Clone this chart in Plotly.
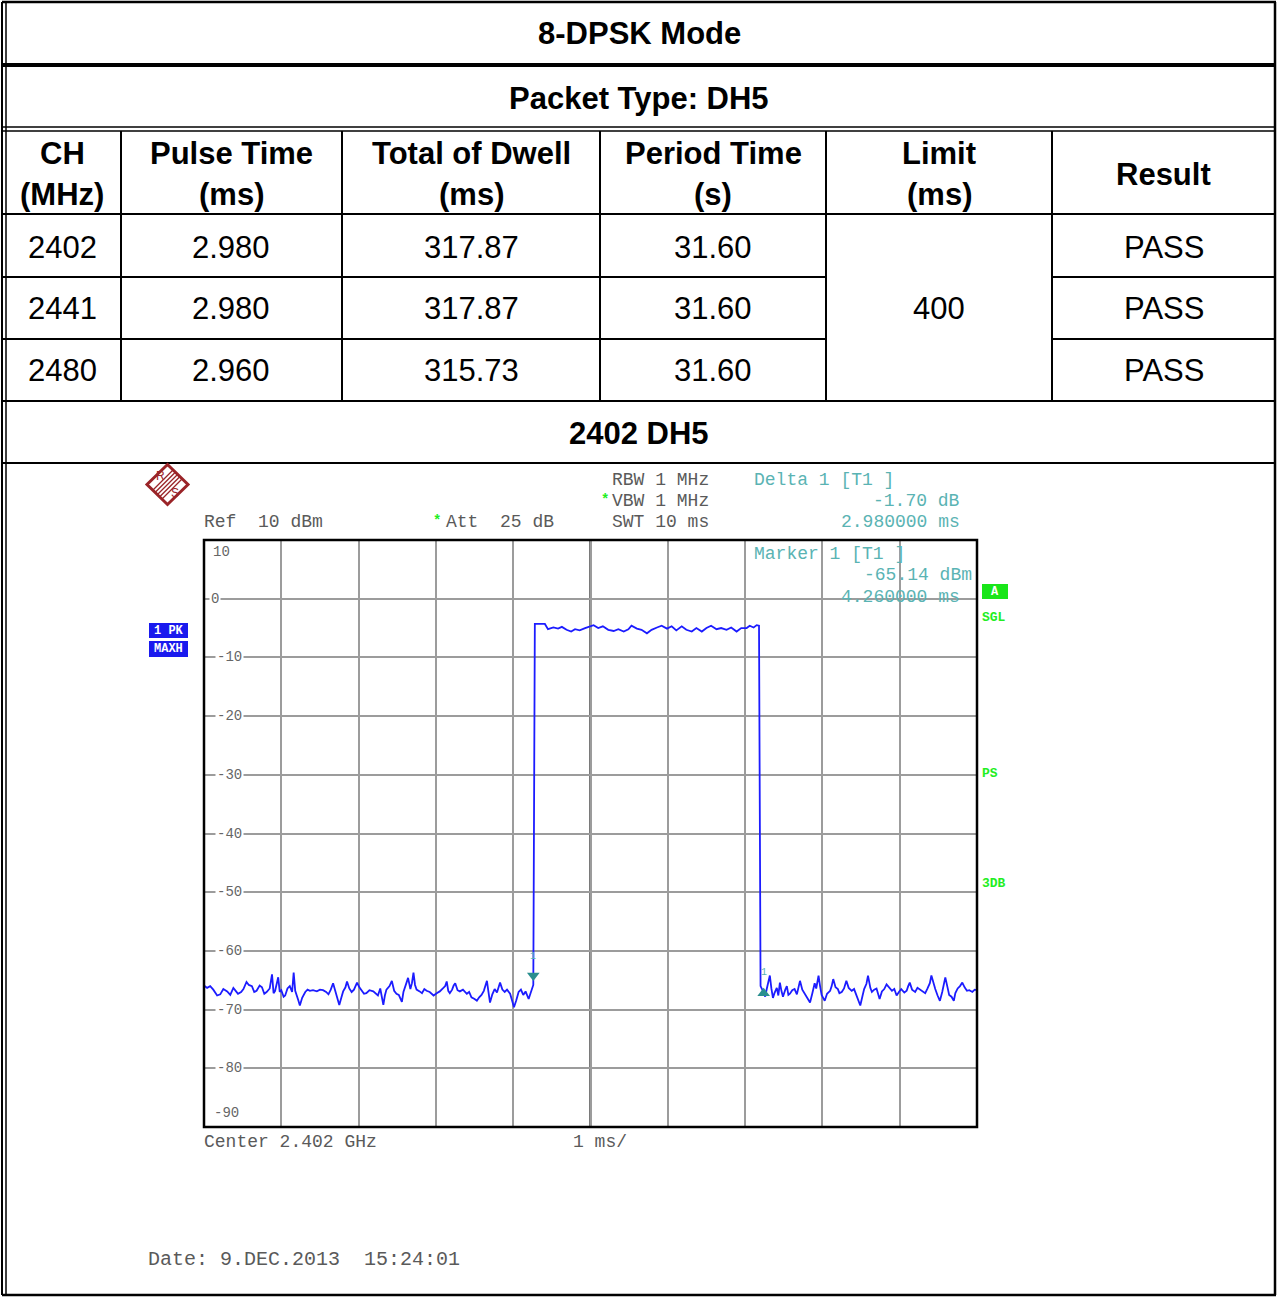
import plotly.graph_objects as go

# ---------------- data ----------------
mode_title = "8-DPSK Mode"
packet_title = "Packet Type: DH5"
headers = [["CH", "(MHz)"], ["Pulse Time", "(ms)"], ["Total of Dwell", "(ms)"],
           ["Period Time", "(s)"], ["Limit", "(ms)"], ["Result"]]
ch_mhz = ["2402", "2441", "2480"]
pulse_ms = ["2.980", "2.980", "2.960"]
dwell_ms = ["317.87", "317.87", "315.73"]
period_s = ["31.60", "31.60", "31.60"]
limit_ms = "400"
result = ["PASS", "PASS", "PASS"]
plot_title = "2402 DH5"

# trace (time in ms, level in dBm)
left_noise = [
    (0.00, -65.9), (0.04, -66.3), (0.08, -66.0), (0.12, -66.6), (0.17, -67.6), (0.21, -67.4),
    (0.25, -66.5), (0.30, -66.9), (0.34, -67.5), (0.38, -66.3), (0.41, -66.8), (0.44, -67.3),
    (0.48, -67.0), (0.51, -66.5), (0.55, -65.3), (0.58, -65.8), (0.62, -66.0), (0.65, -67.0),
    (0.68, -66.8), (0.72, -65.9), (0.75, -66.2), (0.78, -67.3), (0.81, -67.0), (0.85, -66.4),
    (0.88, -64.0), (0.90, -67.2), (0.92, -66.8), (0.94, -65.8), (0.96, -64.5), (0.98, -67.0),
    (1.00, -66.7), (1.03, -67.8), (1.05, -67.6), (1.08, -66.4), (1.11, -66.0), (1.14, -67.0),
    (1.16, -63.7), (1.18, -66.8), (1.20, -67.5), (1.22, -68.4), (1.24, -69.3), (1.27, -68.0),
    (1.31, -67.0), (1.34, -66.6), (1.37, -66.8), (1.41, -66.7), (1.46, -66.9), (1.50, -66.6),
    (1.54, -66.7), (1.58, -67.0), (1.61, -67.4), (1.64, -66.6), (1.67, -65.5), (1.70, -66.8),
    (1.72, -67.8), (1.75, -69.2), (1.78, -67.8), (1.80, -66.9), (1.83, -66.2), (1.85, -65.2),
    (1.88, -66.4), (1.91, -67.0), (1.94, -66.6), (1.98, -65.4), (2.01, -66.2), (2.04, -66.8),
    (2.07, -67.3), (2.10, -67.2), (2.14, -66.7), (2.19, -66.9), (2.22, -67.2), (2.25, -67.6),
    (2.28, -66.4), (2.30, -68.0), (2.32, -69.2), (2.34, -67.6), (2.36, -66.6), (2.40, -66.0),
    (2.43, -65.1), (2.46, -66.8), (2.49, -67.3), (2.52, -67.5), (2.56, -68.7), (2.58, -67.0),
    (2.60, -66.0), (2.62, -65.4), (2.64, -64.6), (2.67, -66.5), (2.69, -65.5), (2.71, -63.7),
    (2.73, -65.8), (2.75, -66.6), (2.79, -66.9), (2.82, -67.2), (2.85, -66.5), (2.88, -66.8),
    (2.92, -67.0), (2.97, -67.6), (3.01, -67.2), (3.05, -66.9), (3.09, -66.4), (3.12, -66.0),
    (3.14, -65.2), (3.16, -66.8), (3.18, -67.2), (3.21, -66.6), (3.23, -65.9), (3.25, -65.5),
    (3.28, -66.7), (3.31, -66.9), (3.35, -66.6), (3.40, -67.3), (3.43, -67.0), (3.46, -67.9),
    (3.50, -68.2), (3.53, -68.5), (3.56, -67.9), (3.59, -67.5), (3.62, -66.8), (3.64, -65.8),
    (3.66, -65.1), (3.68, -67.0), (3.70, -68.8), (3.73, -67.4), (3.76, -66.5), (3.79, -67.1),
    (3.81, -66.0), (3.83, -65.4), (3.86, -66.6), (3.89, -67.0), (3.92, -66.6), (3.96, -67.3),
    (3.98, -68.2), (4.01, -69.6), (4.04, -68.4), (4.07, -67.0), (4.10, -66.6), (4.13, -67.5),
    (4.16, -66.9), (4.20, -68.2), (4.22, -67.4), (4.24, -66.5), (4.26, -65.8),
]
pulse_top = [
    (4.28, -4.3), (4.33, -4.3), (4.41, -4.3), (4.45, -5.2), (4.52, -4.9), (4.58, -5.1),
    (4.63, -4.8), (4.69, -5.3), (4.75, -5.6), (4.80, -5.2), (4.86, -5.4), (4.93, -5.0),
    (4.99, -4.7), (5.04, -4.5), (5.10, -5.0), (5.16, -4.7), (5.23, -5.3), (5.30, -5.5),
    (5.36, -5.2), (5.43, -5.6), (5.49, -5.2), (5.53, -4.6), (5.60, -5.1), (5.66, -5.3),
    (5.73, -5.9), (5.79, -5.3), (5.86, -4.9), (5.92, -4.6), (5.99, -5.1), (6.05, -4.7),
    (6.11, -5.4), (6.18, -4.7), (6.24, -5.3), (6.31, -5.6), (6.37, -5.0), (6.44, -5.6),
    (6.50, -5.0), (6.56, -4.6), (6.63, -5.2), (6.69, -5.0), (6.76, -5.3), (6.82, -4.9),
    (6.89, -5.6), (6.95, -5.0), (7.02, -5.0), (7.06, -4.6), (7.11, -4.9), (7.15, -4.5),
    (7.18, -4.6),
]
right_noise = [
    (7.20, -66.0), (7.23, -66.8), (7.26, -67.8), (7.28, -66.5), (7.30, -65.5), (7.32, -64.2),
    (7.34, -66.4), (7.36, -68.0), (7.38, -67.2), (7.41, -66.3), (7.43, -67.6), (7.45, -65.4),
    (7.47, -66.8), (7.49, -67.8), (7.52, -66.6), (7.54, -66.0), (7.56, -67.5), (7.58, -67.3),
    (7.61, -66.7), (7.64, -66.5), (7.67, -67.4), (7.69, -66.1), (7.71, -65.1), (7.74, -66.6),
    (7.78, -67.5), (7.81, -68.0), (7.84, -68.8), (7.87, -67.2), (7.90, -65.5), (7.92, -66.4),
    (7.95, -64.2), (7.97, -66.0), (7.99, -67.5), (8.01, -68.0), (8.03, -68.5), (8.06, -67.3),
    (8.10, -66.8), (8.12, -66.0), (8.14, -64.8), (8.17, -66.2), (8.20, -66.5), (8.22, -67.2),
    (8.25, -67.0), (8.28, -66.4), (8.31, -65.1), (8.34, -66.3), (8.38, -66.8), (8.41, -66.5),
    (8.44, -67.5), (8.47, -68.3), (8.49, -69.3), (8.52, -67.6), (8.54, -66.5), (8.57, -65.6),
    (8.59, -64.2), (8.62, -66.3), (8.64, -67.0), (8.67, -66.6), (8.70, -66.4), (8.72, -67.3),
    (8.74, -68.2), (8.77, -66.9), (8.80, -66.5), (8.83, -65.7), (8.86, -66.2), (8.90, -66.8),
    (8.93, -66.5), (8.96, -67.6), (8.99, -67.0), (9.02, -66.5), (9.06, -67.1), (9.09, -66.8),
    (9.11, -66.0), (9.13, -65.4), (9.16, -66.6), (9.20, -67.0), (9.23, -66.3), (9.26, -66.6),
    (9.30, -67.0), (9.33, -67.2), (9.36, -66.4), (9.39, -65.5), (9.41, -64.2), (9.44, -65.9),
    (9.46, -66.5), (9.49, -67.6), (9.52, -68.5), (9.55, -67.0), (9.57, -65.6), (9.59, -64.5),
    (9.62, -66.3), (9.64, -67.5), (9.67, -67.8), (9.70, -68.5), (9.72, -67.2), (9.75, -66.4),
    (9.78, -66.0), (9.81, -65.4), (9.84, -66.2), (9.87, -66.8), (9.90, -66.7), (9.94, -67.0),
    (9.97, -66.6), (10.00, -66.7),
]
marker1_t, marker1_level = 4.26, -64.2
delta1_t, delta1_level = 7.24, -67.2

y_tick_values = [0, -10, -20, -30, -40, -50, -60, -70, -80]
y_tick_labels = ["0", "-10", "-20", "-30", "-40", "-50", "-60", "-70", "-80"]

hdr_left = [("Ref  10 dBm", 204, 522)]
hdr_mid = [("RBW 1 MHz", 612, 480), ("VBW 1 MHz", 612, 501), ("SWT 10 ms", 612, 522)]
att_text = "Att  25 dB"
delta_lines = ["Delta 1 [T1 ]", "-1.70 dB", "2.980000 ms"]
marker_lines = ["Marker 1 [T1 ]", "-65.14 dBm", "4.260000 ms"]
center_text = "Center 2.402 GHz"
span_text = "1 ms/"
date_text = "Date: 9.DEC.2013  15:24:01"

# ---------------- helpers ----------------
W, H = 1277, 1298


def px(x):
    return x / W


def py(y):
    return 1 - y / H


shapes = []
annotations = []


def hline(x0, x1, y, w=2, color="black"):
    shapes.append(dict(type="line", xref="paper", yref="paper", x0=px(x0), x1=px(x1),
                       y0=py(y), y1=py(y), line=dict(color=color, width=w)))


def vline(x, y0, y1, w=2, color="black"):
    shapes.append(dict(type="line", xref="paper", yref="paper", x0=px(x), x1=px(x),
                       y0=py(y0), y1=py(y1), line=dict(color=color, width=w)))


def text(s, x, y, size=31, bold=False, color="black", xanchor="center", family="Liberation Sans",
         bg=None, **kw):
    a = dict(text=f"<b>{s}</b>" if bold else s, x=px(x), y=py(y), xref="paper", yref="paper",
             xanchor=xanchor, yanchor="middle", showarrow=False, borderpad=0, borderwidth=0,
             font=dict(family=family, size=size, color=color))
    if bg:
        a["bgcolor"] = bg
    a.update(kw)
    annotations.append(a)


# ---------------- table ----------------
L, R, T, B = 3, 1275, 2, 1295
col_x = [L, 121, 342, 600, 826, 1052, R]
col_c = [(col_x[i] + col_x[i + 1]) / 2 for i in range(6)]

hline(L - 1, R + 1, T, 2.5)
hline(L - 1, R + 1, B, 2.5)
vline(L - 1, T, B, 2)
vline(L + 3, T, B, 1.5)
vline(R, T, B, 2.5)
hline(L, R, 65, 4)
hline(L, R, 127, 1.5)
hline(L, R, 131, 1.5)
hline(L, R, 214, 2)
for i in range(1, 6):
    vline(col_x[i], 131, 401, 2)
for yy in (277, 339):
    hline(L, col_x[4], yy, 2)
    hline(col_x[5], R, yy, 2)
hline(L, R, 401, 2)
hline(L, R, 463, 2)

text(mode_title, 639, 33, bold=True)
text(packet_title, 639, 98, bold=True)
for i, h in enumerate(headers):
    if len(h) == 2:
        text(h[0], col_c[i], 153, bold=True)
        text(h[1], col_c[i], 195, bold=True)
    else:
        text(h[0], col_c[i], 174, bold=True)
row_y = [247, 308, 370]
for r in range(3):
    for c, vals in zip([0, 1, 2, 3, 5], [ch_mhz, pulse_ms, dwell_ms, period_s, result]):
        text(vals[r], col_c[c], row_y[r])
text(limit_ms, col_c[4], 308)
text(plot_title, 639, 433, bold=True)

# ---------------- analyzer screen ----------------
PX0, PX1, PY0, PY1 = 204, 977, 540, 1127
mono = "Liberation Mono"
gray = "#5a5a5a"
teal = "#5ab3b3"
green = "#22ee22"

# R&S logo
cx, cy, hw, hh = 167.5, 484.5, 20.5, 20.0
logo_red = "#9a2428"
shapes.append(dict(type="path", xref="paper", yref="paper",
                   path=f"M {px(cx)} {py(cy-hh)} L {px(cx+hw)} {py(cy)} L {px(cx)} {py(cy+hh)} "
                        f"L {px(cx-hw)} {py(cy)} Z",
                   line=dict(color=logo_red, width=3), fillcolor="white"))
for k in (-4.5, -2.2, 0, 2.2, 4.5):
    shapes.append(dict(type="line", xref="paper", yref="paper",
                       x0=px(cx - 10 + k), y0=py(cy + 10 + k), x1=px(cx + 10 + k), y1=py(cy - 10 + k),
                       line=dict(color=logo_red, width=1.3)))
text("R", 160, 476, size=12, color=logo_red, family="Liberation Sans")
text("S", 175, 493, size=12, color=logo_red, family="Liberation Sans")

# header texts
for s, x, y in hdr_left:
    text(s, x, y, size=18, color=gray, family=mono, xanchor="left")
for s, x, y in hdr_mid:
    text(s, x, y, size=18, color=gray, family=mono, xanchor="left")
text("<b>*</b>", 605, 500, size=14, color=green, family=mono)
text("<b>*</b>", 437, 521, size=14, color=green, family=mono)
text(att_text, 446, 522, size=18, color=gray, family=mono, xanchor="left")
text(delta_lines[0], 754, 480, size=18, color=teal, family=mono, xanchor="left")
text(delta_lines[1], 960, 501, size=18, color=teal, family=mono, xanchor="right")
text(delta_lines[2], 960, 522, size=18, color=teal, family=mono, xanchor="right")
text(marker_lines[0], 754, 554, size=18, color=teal, family=mono, xanchor="left")
text(marker_lines[1], 972, 575, size=18, color=teal, family=mono, xanchor="right")
text(marker_lines[2], 960, 597, size=18, color=teal, family=mono, xanchor="right")

# right side status labels
shapes.append(dict(type="rect", xref="paper", yref="paper", x0=px(982), x1=px(1008),
                   y0=py(599), y1=py(584), fillcolor="#19e619", line=dict(width=0)))
text("<b>A</b>", 995, 591.5, size=12, color="white", family=mono)
text("<b>SGL</b>", 982, 617, size=13, color=green, family=mono, xanchor="left")
text("<b>PS</b>", 982, 773, size=13, color=green, family=mono, xanchor="left")
text("<b>3DB</b>", 982, 883, size=13, color=green, family=mono, xanchor="left")

# left trace labels
for y0, y1, s in [(623, 638, "1 PK"), (641, 657, "MAXH")]:
    shapes.append(dict(type="rect", xref="paper", yref="paper", x0=px(149), x1=px(188),
                       y0=py(y1), y1=py(y0), fillcolor="#1a1aee", line=dict(width=0)))
    text(f"<b>{s}</b>", 168.5, (y0 + y1) / 2, size=12, color="white", family=mono)

# footer texts
text(center_text, 204, 1142, size=18, color=gray, family=mono, xanchor="left")
text(span_text, 573, 1142, size=18, color=gray, family=mono, xanchor="left")
text(date_text, 148, 1259, size=20, color=gray, family=mono, xanchor="left")

# y labels inside plot
for v, s in zip(y_tick_values, y_tick_labels):
    annotations.append(dict(text=s, x=px(215 if v == 0 else 230), y=v, xref="paper", yref="y",
                            xanchor="center", yanchor="middle", showarrow=False, bgcolor="white",
                            borderpad=1, font=dict(family=mono, size=14, color="#666666")))
text("10", 221, 552, size=14, color="#666666", family=mono)
text("-90", 226, 1113, size=14, color="#666666", family=mono)

# center vertical line and border
shapes.append(dict(type="line", xref="x", yref="y", x0=5, x1=5, y0=-90, y1=10,
                   line=dict(color="#222222", width=2.2), layer="below"))
shapes.append(dict(type="rect", xref="paper", yref="paper", x0=px(PX0), x1=px(PX1),
                   y0=py(PY1), y1=py(PY0), line=dict(color="black", width=2.5)))

# ---------------- traces ----------------
pts = left_noise + pulse_top + right_noise
fig = go.Figure()
fig.add_trace(go.Scatter(x=[p[0] for p in pts], y=[p[1] for p in pts], mode="lines",
                         line=dict(color="#1c1cff", width=1.8), hoverinfo="skip", showlegend=False))
fig.add_trace(go.Scatter(x=[marker1_t], y=[marker1_level], mode="markers",
                         marker=dict(symbol="triangle-down", size=11, color="#2a8f8f"),
                         showlegend=False))
fig.add_trace(go.Scatter(x=[delta1_t], y=[delta1_level], mode="markers",
                         marker=dict(symbol="triangle-up", size=11, color="#2a8f8f"),
                         showlegend=False))
annotations.append(dict(text="1", x=marker1_t, y=marker1_level + 3.3, xref="x", yref="y",
                        showarrow=False, font=dict(family=mono, size=10, color=teal)))
annotations.append(dict(text="1", x=delta1_t, y=delta1_level + 3.6, xref="x", yref="y",
                        showarrow=False, font=dict(family=mono, size=10, color=teal)))

fig.update_layout(
    width=W, height=H, margin=dict(l=0, r=0, t=0, b=0),
    paper_bgcolor="white", plot_bgcolor="white",
    xaxis=dict(domain=[px(PX0), px(PX1)], range=[0, 10], dtick=1, showgrid=True,
               gridcolor="#9c9c9c", gridwidth=1.5, zeroline=False, showticklabels=False,
               ticks="", fixedrange=True),
    yaxis=dict(domain=[py(PY1), py(PY0)], range=[-90, 10], dtick=10, showgrid=True,
               gridcolor="#9c9c9c", gridwidth=1.5, zeroline=False, showticklabels=False,
               ticks="", fixedrange=True),
    shapes=shapes, annotations=annotations,
)
fig.write_html("out.html", config={"displayModeBar": False},
               post_script="document.body.style.margin='0';"
                           "document.documentElement.style.overflow='hidden';")
